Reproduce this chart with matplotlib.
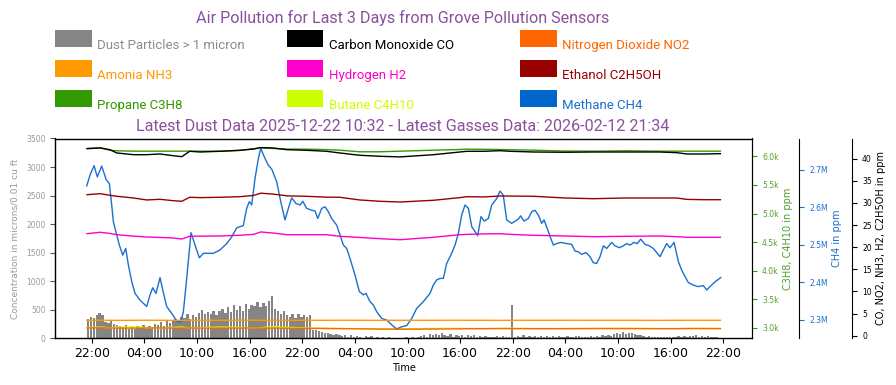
import matplotlib
matplotlib.use("Agg")
import matplotlib.pyplot as plt
import matplotlib.dates as mdates
from matplotlib.patches import Rectangle
from matplotlib.ticker import FuncFormatter, MultipleLocator
import pandas as pd

# ---------------- data ----------------
start = pd.Timestamp("2026-02-09 21:34")

title_text = "Air Pollution for Last 3 Days from Grove Pollution Sensors"
subtitle_text = "Latest Dust Data 2025-12-22 10:32 - Latest Gasses Data: 2026-02-12 21:34"

# dust particles, one value every 20 minutes (microns / 0.01 cu ft)
dust_values = [
    330, 370, 350, 410, 450, 400, 290, 270, 300, 250, 230, 210,
    190, 230, 170, 200, 160, 220, 180, 240, 170, 210, 190, 250,
    240, 280, 220, 300, 260, 320, 340, 290, 380, 360, 420, 330,
    400, 370, 450, 500, 420, 460, 430, 480, 410, 470, 520, 450,
    540, 460, 580, 500, 560, 480, 600, 520, 580, 560, 640, 540,
    610, 560, 650, 740, 520, 470, 420, 470, 400, 380, 430, 360,
    420, 370, 400, 380, 410, 140, 150, 120, 110, 90, 100, 70,
    60, 80, 50, 40, 60, 30, 50, 20, 40, 30, 0, 40,
    20, 35, 0, 25, 0, 15, 0, 20, 0, 10, 0, 0,
    0, 15, 0, 20, 0, 30, 40, 60, 30, 70, 50, 80,
    60, 90, 50, 40, 70, 30, 60, 40, 50, 30, 60, 40,
    50, 30, 40, 20, 40, 30, 30, 20, 40, 25, 35, 20,
    30, 585, 20, 40, 30, 50, 30, 45, 25, 40, 20, 35,
    30, 40, 20, 35, 25, 40, 20, 30, 45, 30, 20, 35,
    40, 25, 30, 30, 45, 20, 35, 30, 50, 40, 60, 45,
    70, 90, 80, 110, 80, 100, 90, 70, 60, 50, 40, 30,
    35, 25, 20, 20, 30, 15, 25, 20, 30, 30, 40, 20,
    45, 30, 40, 35, 50, 30, 40, 25, 35, 30, 20, 15,
]

# smooth gas series, hours after start
gas_hours = [-0.1, 1.4, 2.5, 3.3, 5.2, 6.7, 8.2, 9.7, 10.7, 11.6,
             12.8, 15.1, 17.3, 18.9, 19.7, 21.1, 22.7, 24.9, 27.2, 28.7,
             31.0, 33.3, 35.6, 39.4, 42.4, 43.2, 45.1, 47.0, 48.1, 50.8,
             54.4, 57.6, 61.4, 65.2, 67.1, 68.3, 70.2, 72.1]
co_ppm = [42.26, 42.42, 42.03, 41.29, 40.90, 40.90, 41.06, 40.68, 40.45, 41.67,
          41.51, 41.67, 41.90, 42.19, 42.50, 42.42, 42.03, 41.90, 41.67, 41.29,
          40.77, 40.54, 40.40, 40.90, 41.51, 41.67, 41.67, 41.81, 41.67, 41.51,
          41.45, 41.51, 41.51, 41.51, 41.36, 41.06, 41.06, 41.13]
no2_ppm = [1.75, 1.78, 1.74, 1.72, 1.70, 1.73, 1.75, 1.72, 1.70, 1.74,
           1.72, 1.70, 1.73, 1.75, 1.72, 1.70, 1.68, 1.66, 1.62, 1.60,
           1.55, 1.50, 1.46, 1.50, 1.55, 1.58, 1.60, 1.62, 1.60, 1.58,
           1.60, 1.62, 1.60, 1.58, 1.60, 1.62, 1.60, 1.60]
nh3_ppm = [3.48, 3.50, 3.48, 3.47, 3.48, 3.50, 3.48, 3.47, 3.48, 3.49,
           3.48, 3.48, 3.49, 3.50, 3.48, 3.48, 3.47, 3.48, 3.48, 3.49,
           3.48, 3.47, 3.48, 3.48, 3.49, 3.48, 3.48, 3.47, 3.48, 3.48,
           3.49, 3.48, 3.48, 3.47, 3.48, 3.48, 3.48, 3.48]
h2_ppm = [23.05, 23.37, 23.10, 22.82, 22.50, 22.31, 22.20, 22.08, 21.85, 22.46,
          22.50, 22.53, 22.69, 22.90, 23.44, 23.20, 22.82, 22.82, 22.82, 22.46,
          22.20, 21.92, 21.69, 22.24, 22.82, 22.90, 23.00, 23.05, 22.90, 22.69,
          22.53, 22.37, 22.46, 22.53, 22.37, 22.24, 22.24, 22.24]
c2h5oh_ppm = [31.86, 32.09, 31.73, 31.50, 31.12, 30.67, 30.82, 30.51, 30.37, 31.28,
              31.20, 31.28, 31.41, 31.70, 32.20, 32.00, 31.60, 31.50, 31.30, 31.28,
              30.67, 30.37, 30.21, 30.60, 31.20, 31.41, 31.35, 31.57, 31.55, 31.50,
              31.12, 30.96, 31.12, 31.12, 31.12, 30.80, 30.73, 30.73]
c3h8_ppm = [6140, 6152, 6110, 6100, 6093, 6093, 6093, 6093, 6093, 6093,
            6093, 6093, 6105, 6135, 6152, 6140, 6130, 6128, 6120, 6110,
            6082, 6082, 6093, 6110, 6122, 6128, 6125, 6122, 6118, 6110,
            6095, 6093, 6100, 6093, 6093, 6093, 6093, 6093]
c4h10_ppm = [3000, 3010, 2995, 3005, 3015, 3000, 2990, 3005, 3010, 2995,
             3000, 3010, 3005, 2995, 3000, 3015, 3005, 2995, 2990, 2985,
             2980, 2975, 2980, 2985, 2990, 2985, 2980, 2985, 2990, 2985,
             2980, 2985, 2990, 2985, 2980, 2985, 2990, 2985]

# methane, hours after start and millions of ppm
ch4_hours = [-0.14, 0.24, 0.70, 1.07, 1.57, 2.06, 2.44, 2.71, 2.90, 3.28,
             3.58, 3.97, 4.31, 4.61, 5.00, 5.37, 5.94, 6.70, 7.08, 7.39,
             7.76, 8.22, 8.53, 8.98, 9.55, 10.12, 10.58, 10.88, 11.26, 11.75,
             12.21, 12.70, 13.16, 13.73, 14.30, 15.06, 15.82, 16.39, 16.96, 17.72,
             17.91, 18.10, 18.40, 18.67, 19.05, 19.43, 19.70, 20.19, 20.57, 20.95,
             21.52, 21.98, 22.47, 22.85, 23.23, 23.72, 24.18, 24.49, 24.94, 25.51,
             25.89, 26.20, 26.65, 27.03, 27.41, 27.79, 28.36, 28.74, 29.12, 29.50,
             29.88, 30.45, 30.94, 31.40, 31.70, 32.16, 32.54, 32.92, 33.49, 34.06,
             34.63, 35.20, 35.77, 36.34, 36.91, 37.48, 38.24, 39.00, 39.37, 39.76,
             40.14, 40.52, 40.90, 41.47, 41.85, 42.23, 42.61, 42.99, 43.37, 43.76,
             44.44, 44.81, 45.19, 45.65, 46.03, 46.60, 46.98, 47.35, 47.74, 48.31,
             49.06, 49.33, 49.71, 50.21, 50.59, 50.96, 51.35, 51.73, 52.00, 52.49,
             52.76, 53.06, 53.44, 53.90, 54.58, 55.15, 55.53, 55.91, 56.29, 56.78,
             57.24, 57.61, 58.00, 58.38, 58.76, 59.14, 59.71, 60.09, 60.58, 61.04,
             61.42, 61.80, 62.26, 62.63, 63.02, 63.51, 64.00, 64.46, 64.84, 65.22,
             65.60, 65.98, 66.36, 66.82, 67.31, 67.69, 68.07, 68.45, 69.02, 69.58,
             70.15, 70.54, 70.92, 71.49, 72.14]
ch4_mppm = [2.657, 2.686, 2.711, 2.681, 2.710, 2.675, 2.663, 2.606, 2.561, 2.526,
            2.499, 2.472, 2.490, 2.446, 2.401, 2.370, 2.352, 2.335, 2.366, 2.385,
            2.370, 2.412, 2.379, 2.335, 2.317, 2.296, 2.293, 2.321, 2.410, 2.532,
            2.499, 2.465, 2.477, 2.477, 2.477, 2.486, 2.503, 2.521, 2.545, 2.551,
            2.575, 2.597, 2.615, 2.606, 2.677, 2.730, 2.757, 2.730, 2.712, 2.702,
            2.668, 2.615, 2.566, 2.597, 2.625, 2.610, 2.606, 2.616, 2.597, 2.592,
            2.590, 2.570, 2.597, 2.601, 2.588, 2.570, 2.552, 2.526, 2.499, 2.490,
            2.463, 2.419, 2.375, 2.366, 2.370, 2.348, 2.339, 2.321, 2.303, 2.299,
            2.286, 2.275, 2.281, 2.284, 2.303, 2.330, 2.348, 2.370, 2.392, 2.406,
            2.410, 2.410, 2.450, 2.477, 2.499, 2.530, 2.579, 2.606, 2.597, 2.548,
            2.524, 2.575, 2.563, 2.570, 2.606, 2.623, 2.643, 2.632, 2.566, 2.557,
            2.568, 2.577, 2.563, 2.570, 2.588, 2.592, 2.579, 2.557, 2.566, 2.535,
            2.517, 2.499, 2.503, 2.506, 2.503, 2.501, 2.483, 2.481, 2.474, 2.479,
            2.468, 2.452, 2.450, 2.468, 2.497, 2.490, 2.506, 2.497, 2.492, 2.497,
            2.503, 2.499, 2.506, 2.503, 2.515, 2.501, 2.497, 2.490, 2.479, 2.468,
            2.486, 2.503, 2.492, 2.506, 2.455, 2.432, 2.415, 2.399, 2.392, 2.388,
            2.391, 2.379, 2.388, 2.401, 2.412]

legend_labels = ["Dust Particles > 1 micron", "Carbon Monoxide CO", "Nitrogen Dioxide NO2",
                 "Amonia NH3", "Hydrogen H2", "Ethanol C2H5OH",
                 "Propane C3H8", "Butane C4H10", "Methane CH4"]
legend_colors = ["#858585", "#000000", "#ff6600",
                 "#ff9900", "#ff00cc", "#990000",
                 "#339900", "#ccff00", "#0066cc"]
legend_text_colors = ["#8c8c8c", "#000000", "#ff6600",
                      "#ff9900", "#ff00cc", "#990000",
                      "#339900", "#ccff00", "#1a6fd0"]

# ---------------- figure ----------------
W, H = 896, 385
fig = plt.figure(figsize=(W / 100, H / 100), dpi=100)
TITLE_C = "#8a4f9e"
FONT = ["Roboto", "DejaVu Sans"]

def hrs(h):
    return [start + pd.Timedelta(hours=v) for v in h]

dust_times = pd.date_range(start, periods=len(dust_values), freq="20min")
gas_t = hrs(gas_hours)
ch4_t = hrs(ch4_hours)

ax = fig.add_axes([55.3 / W, 1 - 338.3 / H, 697 / W, 199.8 / H])
ax.bar(dust_times, dust_values, width=0.8 * (20 / 1440), color="#858585", linewidth=0)
ax.set_ylim(0, 3500)
ax.yaxis.set_major_locator(MultipleLocator(500))
ax.tick_params(axis="y", labelsize=5.5, labelcolor="#999999", color="#555555")
ax.set_ylabel("Concentration in microns/0.01 cu ft", fontsize=6.5, color="#999999", labelpad=5)
ax.xaxis.set_major_locator(mdates.HourLocator(byhour=[4, 10, 16, 22]))
ax.xaxis.set_major_formatter(mdates.DateFormatter("%H:%M"))
ax.tick_params(axis="x", labelsize=9, pad=3)
ax.set_xlabel("Time", fontsize=7, labelpad=2)
ax.set_xlim(start - pd.Timedelta(hours=3.72), start + pd.Timedelta(hours=75.74))

# green axis (C3H8, C4H10)
axg = ax.twinx()
axg.plot(gas_t, c3h8_ppm, color="#339900", lw=1.0)
axg.plot(gas_t, c4h10_ppm, color="#ccff00", lw=1.0)
axg.set_ylim(2813, 6315)
axg.yaxis.set_major_locator(MultipleLocator(500))
axg.yaxis.set_major_formatter(FuncFormatter(lambda v, p: f"{v/1000:.1f}k"))
axg.tick_params(axis="y", labelsize=5.5, labelcolor="#4fa02a", color="#339900")
axg.set_ylabel("C3H8, C4H10 in ppm", fontsize=7, color="#4fa02a", labelpad=3)

# blue axis (CH4)
axb = ax.twinx()
axb.spines["right"].set_position(("axes", 1 + 47 / 697))
axb.plot(ch4_t, ch4_mppm, color="#1a6fd0", lw=1.0)
axb.set_ylim(2.2501, 2.7835)
axb.yaxis.set_major_locator(MultipleLocator(0.1))
axb.yaxis.set_major_formatter(FuncFormatter(lambda v, p: f"{v:.1f}M"))
axb.tick_params(axis="y", labelsize=5.5, labelcolor="#1a6fd0", color="#1a6fd0")
axb.set_ylabel("CH4 in ppm", fontsize=7, color="#1a6fd0", labelpad=3)

# black axis (CO, NO2, NH3, H2, C2H5OH)
axk = ax.twinx()
axk.spines["right"].set_position(("axes", 1 + 100 / 697))
axk.plot(gas_t, nh3_ppm, color="#ff9900", lw=1.0)
axk.plot(gas_t, no2_ppm, color="#ff6600", lw=1.0)
axk.plot(gas_t, h2_ppm, color="#ff00cc", lw=1.0)
axk.plot(gas_t, c2h5oh_ppm, color="#990000", lw=1.0)
axk.plot(gas_t, co_ppm, color="#000000", lw=1.0)
axk.set_ylim(-0.59, 44.56)
axk.yaxis.set_major_locator(MultipleLocator(5))
axk.tick_params(axis="y", labelsize=5.5, labelcolor="#000000")
axk.set_ylabel("CO, NO2, NH3, H2, C2H5OH in ppm", fontsize=7, color="#000000", labelpad=3)

# titles
fig.text(403 / W, 1 - 23.3 / H, title_text, ha="center", va="baseline",
         fontsize=11.6, color=TITLE_C, family=FONT)
fig.text(403 / W, 1 - 130.7 / H, subtitle_text, ha="center", va="baseline",
         fontsize=11.6, color=TITLE_C, family=FONT)

# legend (3 x 3 grid)
col_x = [55.0, 286.7, 520.0]
row_y = [30.0, 60.0, 90.0]
for i, (lab, pc, tc) in enumerate(zip(legend_labels, legend_colors, legend_text_colors)):
    r, c = divmod(i, 3)
    x0, y0 = col_x[c], row_y[r]
    fig.add_artist(Rectangle((x0 / W, 1 - (y0 + 16.7) / H), 36.7 / W, 16.7 / H,
                             transform=fig.transFigure, facecolor=pc, edgecolor="none"))
    fig.text((x0 + 42.3) / W, 1 - (y0 + 18.7) / H, lab, ha="left", va="baseline",
             fontsize=9.5, color=tc, family=FONT)

fig.savefig("out.png", dpi=100)
